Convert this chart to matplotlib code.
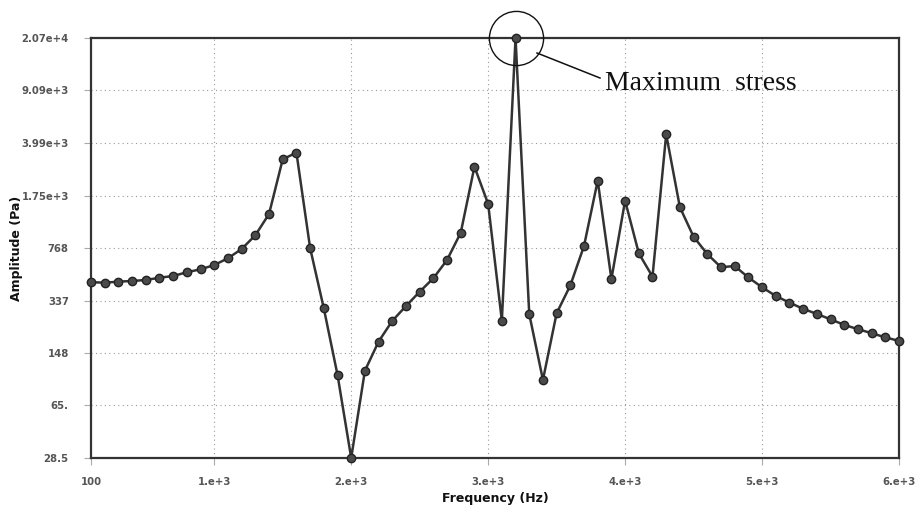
import matplotlib
matplotlib.use("Agg")
import matplotlib.pyplot as plt
from matplotlib.lines import Line2D

# Data
freq_hz = list(range(100, 6001, 100))
amplitude_pa = [
    449, 446, 453, 458, 465, 482, 495, 525, 550, 588,
    654, 756, 938, 1310, 3090, 3428, 768, 298, 105, 28.5,
    112, 177, 245, 309, 387, 478, 637, 977, 2750, 1533,
    246, 20700, 273, 97, 276, 427, 793, 2209, 472, 1614,
    707, 490, 4574, 1456, 917, 699, 568, 579, 484, 415,
    362, 326, 296, 273, 251, 230, 215, 202, 189, 179,
]
x_ticks = [100, 1000, 2000, 3000, 4000, 5000, 6000]
x_tick_labels = ["100", "1.e+3", "2.e+3", "3.e+3", "4.e+3", "5.e+3", "6.e+3"]
y_ticks = [28.5, 65, 148, 337, 768, 1750, 3990, 9090, 20700]
y_tick_labels = ["28.5", "65.", "148", "337", "768", "1.75e+3", "3.99e+3", "9.09e+3", "2.07e+4"]
peak_freq = 3200
peak_amp = 20700

fig = plt.figure(figsize=(9.21, 5.17), dpi=100)
ax = fig.add_axes([91 / 921, 1 - 458 / 517, (899 - 91) / 921, (458 - 38) / 517])

ax.set_yscale("log")
ax.set_xlim(100, 6000)
ax.set_ylim(28.5, 20700)

ax.plot(freq_hz, amplitude_pa, color="#333333", lw=1.8, marker="o",
        markersize=6, markerfacecolor="#4a4a4a", markeredgecolor="#222222",
        markeredgewidth=1.0, clip_on=False, zorder=3)

ax.set_xticks(x_ticks)
ax.set_xticklabels(x_tick_labels)
ax.set_yticks(y_ticks)
ax.set_yticklabels(y_tick_labels)
ax.yaxis.set_minor_locator(matplotlib.ticker.NullLocator())

for lab in ax.get_xticklabels() + ax.get_yticklabels():
    lab.set_fontsize(7.3)
    lab.set_fontweight("bold")
    lab.set_color("#555555")

ax.tick_params(axis="both", which="major", length=5, width=0.8, color="#aaaaaa")
ax.tick_params(axis="y", pad=11)
ax.tick_params(axis="x", pad=9)

ax.grid(True, which="major", linestyle=(0, (1, 3)), color="#999999", linewidth=0.8)
ax.set_axisbelow(True)

for sp in ax.spines.values():
    sp.set_color("#333333")
    sp.set_linewidth(1.6)

ax.set_xlabel("Frequency (Hz)", fontsize=9, fontweight="bold", color="#111111", labelpad=3)
ax.set_ylabel("Amplitude (Pa)", fontsize=9, fontweight="bold", color="#111111", labelpad=-1)

# Annotation: circle around the maximum and label
ax.plot([peak_freq], [peak_amp], marker="o", markersize=39, markerfacecolor="none",
        markeredgecolor="#111111", markeredgewidth=1.0, clip_on=False, zorder=4)
fig.add_artist(Line2D([537 / 921, 600 / 921], [1 - 53 / 517, 1 - 78 / 517],
                      color="#111111", lw=1.1))
fig.text(605 / 921, 1 - 83 / 517, "Maximum  stress", fontsize=20,
         family="Liberation Serif", ha="left", va="center", color="#111111")

fig.savefig("out.png", dpi=100)
